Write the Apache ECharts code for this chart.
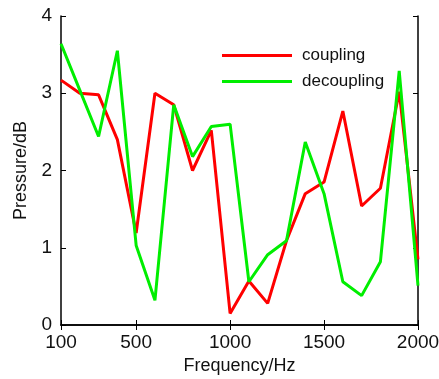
<!DOCTYPE html>
<html><head><meta charset="utf-8">
<script src="https://cdn.jsdelivr.net/npm/echarts@6/dist/echarts.min.js"></script>
<style>html,body{margin:0;padding:0;background:#fff}#c{width:439px;height:379px}</style>
</head><body><div id="c"></div>
<script>
const freqs = [100,200,300,400,500,600,700,800,900,1000,1100,1200,1300,1400,1500,1600,1700,1800,1900,2000];
const coupling = [3.17,3.00,2.98,2.40,1.19,3.00,2.85,2.00,2.52,0.15,0.57,0.28,1.09,1.70,1.85,2.77,1.54,1.77,3.02,0.85];
const decoupling = [3.64,3.04,2.44,3.55,1.03,0.32,2.85,2.18,2.57,2.60,0.56,0.91,1.09,2.37,1.70,0.56,0.38,0.82,3.29,0.51];
const xTicks = [100,500,1000,1500,2000];
const yTicks = [0,1,2,3,4];

const font = 'Liberation Sans, Arial, sans-serif';
const chart = echarts.init(document.getElementById('c'), null, {renderer:'canvas'});
const pair = a => freqs.map((f,i)=>[f,a[i]]);
const axLine = {show:true, lineStyle:{color:'#000', width:1.5}};
const tick = {show:true, inside:true, length:5, lineStyle:{color:'#000', width:1}};
chart.setOption({
  animation:false,
  grid:{left:61, right:21, top:16, bottom:54, containLabel:false, outerBoundsMode:'none'},
  legend:{
    show:true, orient:'vertical', left:217, top:42, itemWidth:70, itemHeight:3, itemGap:9,
    icon:'rect',
    textStyle:{fontFamily:font, fontSize:17, color:'#111', padding:[0,0,0,5]},
    data:['coupling','decoupling']
  },
  xAxis:[{
    type:'value', min:100, max:2000, position:'bottom',
    name:'Frequency/Hz', nameLocation:'middle', nameGap:30,
    nameTextStyle:{fontFamily:font, fontSize:18, color:'#111'},
    axisLine:axLine, splitLine:{show:false},
    axisTick:Object.assign({customValues:xTicks}, tick),
    axisLabel:{customValues:xTicks, formatter:v=>String(v), fontFamily:font, fontSize:19, color:'#111', margin:8}
  },{
    type:'value', min:100, max:2000, position:'top',
    axisLine:axLine, splitLine:{show:false},
    axisTick:Object.assign({customValues:xTicks}, tick),
    axisLabel:{show:false}
  }],
  yAxis:[{
    type:'value', min:0, max:4, interval:1, position:'left',
    name:'Pressure/dB', nameLocation:'middle', nameGap:31, nameRotate:90,
    nameTextStyle:{fontFamily:font, fontSize:18, color:'#111'},
    axisLine:axLine, splitLine:{show:false},
    axisTick:tick,
    axisLabel:{fontFamily:font, fontSize:19, color:'#111', margin:9}
  },{
    type:'value', min:0, max:4, interval:1, position:'right',
    axisLine:axLine, splitLine:{show:false},
    axisTick:tick, axisLabel:{show:false}
  }],
  series:[
    {name:'coupling', type:'line', data:pair(coupling), symbol:'none', color:'#ff0000',
     lineStyle:{width:3, color:'#ff0000'}, z:2},
    {name:'decoupling', type:'line', data:pair(decoupling), symbol:'none', color:'#00ee00',
     lineStyle:{width:3, color:'#00ee00'}, z:3}
  ]
});
</script></body></html>
